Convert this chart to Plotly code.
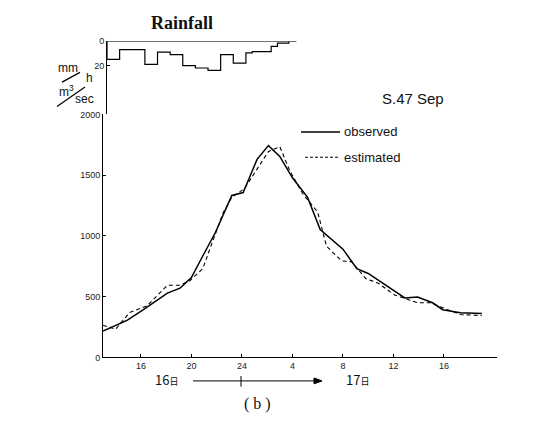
import plotly.graph_objects as go

# ---------------- data ----------------
# hours counted from 0:00 on the 16th
obs_hours = [13.0, 14.9, 16.2, 17.3, 18.1, 19.1, 20.0, 20.9, 21.9, 23.2, 24.1, 25.2, 26.1,
             27.0, 28.0, 29.2, 30.2, 32.0, 33.1, 34.0, 35.7, 36.9, 37.9, 39.1, 39.9, 41.3, 43.0]
obs_flow = [217, 305, 393, 474, 530, 570, 658, 835, 1028, 1333, 1357, 1630, 1743,
            1654, 1478, 1317, 1052, 891, 731, 691, 570, 490, 498, 450, 393, 369, 361]

est_hours = [13.0, 14.0, 15.1, 16.5, 18.1, 19.1, 19.9, 20.9, 22.5, 23.2, 24.2, 26.1, 27.0,
             27.8, 28.8, 30.0, 30.7, 31.9, 32.7, 33.8, 34.8, 36.1, 37.9, 38.9, 39.9, 41.3, 43.0]
est_flow = [265, 233, 369, 426, 594, 594, 634, 731, 1188, 1317, 1389, 1694, 1734,
            1534, 1349, 1196, 915, 795, 787, 650, 610, 514, 450, 450, 410, 353, 345]

rain_start = [13, 14, 15, 16, 17, 18, 19, 20, 21, 22, 23, 24, 24.5, 26, 26.5]
rain_mm = [15, 7, 7, 19, 9, 11, 20, 22, 24, 11, 18, 9.6, 8.6, 4.3, 1.6]
rain_end = 27.4
rain_axis_end = 28.0

x_tickvals = [16, 20, 24, 28, 32, 36, 40]
x_ticktext = ["16", "20", "24", "4", "8", "12", "16"]
y_tickvals = [0, 500, 1000, 1500, 2000]
rain_tickvals = [0, 20]

# ---------------- figure ----------------
W, H = 551, 424
def px(x):
    return x / W
def py(y):
    return 1 - y / H

rx = [rain_start[0]] + rain_start + [rain_end, rain_axis_end, rain_start[0]]
ry = [0] + rain_mm + [0, 0, 0]

fig = go.Figure()
fig.add_trace(go.Scatter(x=rx, y=ry, mode="lines", line=dict(color="black", width=1.2, shape="hv"),
                         xaxis="x2", yaxis="y2", showlegend=False, hoverinfo="skip"))
fig.add_trace(go.Scatter(x=obs_hours, y=obs_flow, mode="lines", name="observed",
                         line=dict(color="black", width=1.5)))
fig.add_trace(go.Scatter(x=est_hours, y=est_flow, mode="lines", name="estimated",
                         line=dict(color="black", width=1.1, dash="4px,3px")))

tickfont = dict(family="Liberation Sans", size=9, color="#222")

fig.update_layout(
    width=W, height=H, autosize=False,
    margin=dict(l=0, r=0, t=0, b=0),
    paper_bgcolor="white", plot_bgcolor="white",
    showlegend=False,
    xaxis=dict(domain=[px(103), px(497)], range=[13, 44.2], anchor="y",
               tickvals=x_tickvals, ticktext=x_ticktext, ticks="inside", ticklen=3,
               tickcolor="black", showline=True, linecolor="black", linewidth=1,
               showgrid=False, zeroline=False, tickfont=tickfont),
    yaxis=dict(domain=[py(361), py(112)], range=[0, 2000], anchor="x",
               tickvals=y_tickvals, ticks="inside", ticklen=3, tickcolor="black",
               showline=True, linecolor="black", linewidth=1,
               showgrid=False, zeroline=False, tickfont=tickfont),
    xaxis2=dict(domain=[px(107), px(501)], range=[13, 44.2], anchor="y2", visible=False),
    yaxis2=dict(domain=[py(112), py(37)], range=[60, 0], anchor="x2",
                tickvals=rain_tickvals, ticks="inside", ticklen=3, tickcolor="black",
                showline=True, linecolor="black", linewidth=1,
                showgrid=False, zeroline=False, tickfont=tickfont),
)

def ann(text, x, y, size=12, family="Liberation Sans", xanchor="center", color="#111"):
    fig.add_annotation(text=text, x=px(x), y=py(y), xref="paper", yref="paper",
                       showarrow=False, xanchor=xanchor, yanchor="middle",
                       font=dict(family=family, size=size, color=color))

ann("<b>Rainfall</b>", 182, 18, size=18, family="Liberation Serif")
ann("S.47 Sep", 413, 96, size=15)
ann("observed", 342, 130, size=13, xanchor="left")
ann("estimated", 342, 156, size=13, xanchor="left")
ann("mm", 68, 65, size=12)
ann("h", 89, 75, size=12)
ann("m<sup>3</sup>", 66, 88, size=12)
ann("sec", 84, 96, size=12)
ann("16<span style='font-size:9px'>日</span>", 166, 384, size=13, family="Noto Sans CJK JP")
ann("17<span style='font-size:9px'>日</span>", 357, 384, size=13, family="Noto Sans CJK JP")
ann("( b )", 257, 409, size=16, family="Liberation Serif")

def seg(x0, y0, x1, y1, width=1, dash="solid"):
    fig.add_shape(type="line", xref="paper", yref="paper", x0=px(x0), y0=py(y0),
                  x1=px(x1), y1=py(y1), line=dict(color="black", width=width, dash=dash))

seg(301, 130, 340, 130, width=1.5)
seg(305, 156, 338, 156, width=1.1, dash="3px,2px")
seg(62, 79, 80, 69, width=1.2)
seg(57, 104, 85, 84, width=1.2)
seg(193, 385, 316, 385, width=1)
seg(241, 380, 241, 391, width=1)
# arrowhead at right end of the day-span arrow
ax0, ay0 = px(322), py(385)
fig.add_shape(type="path", xref="paper", yref="paper",
              path=f"M {ax0} {ay0} L {px(314)} {py(382)} L {px(314)} {py(388)} Z",
              fillcolor="black", line=dict(color="black", width=1))

fig.write_html("out.html")
